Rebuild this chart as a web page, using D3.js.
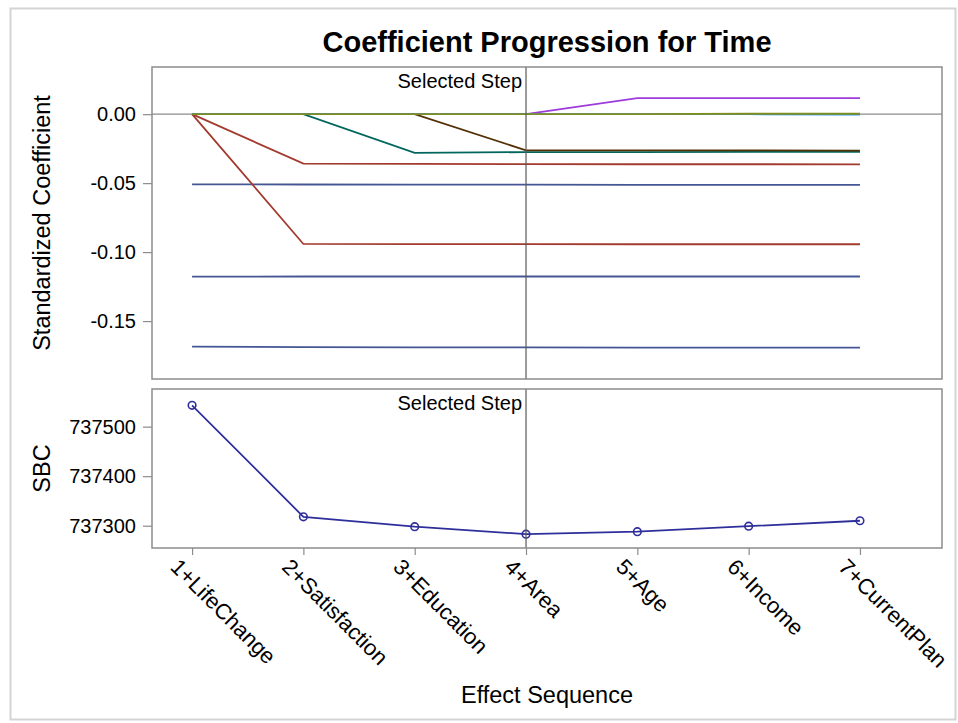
<!DOCTYPE html>
<html>
<head>
<meta charset="utf-8">
<title>Coefficient Progression for Time - D3.js</title>
<script src="https://d3js.org/d3.v7.min.js"></script>
<style>
body {
margin: 0;
background: #fff;
}

text {
font-family: "Liberation Sans", Arial, sans-serif;
fill: #000;
}

.frame {
fill: none;
stroke: #8c8c8c;
stroke-width: 1.5px;
}

.line {
fill: none;
stroke-width: 1.8px;
}

.axis path {
display: none;
}

.axis line {
stroke: #8c8c8c;
stroke-width: 1.2px;
}

.axis text {
font-size: 20px;
}
</style>
</head>
<body>
<svg width="958" height="723"></svg>

<script>
// effect sequence (x categories)
const steps = ["1+LifeChange", "2+Satisfaction", "3+Education", "4+Area", "5+Age", "6+Income", "7+CurrentPlan"];
const selectedStep = 4;

// standardized coefficients per step
const lifeChangeA = [-0.0509, -0.0510, -0.0511, -0.0511, -0.0512, -0.0512, -0.0512];
const lifeChangeB = [-0.1178, -0.1177, -0.1177, -0.1177, -0.1177, -0.1177, -0.1177];
const lifeChangeC = [-0.1686, -0.1689, -0.1690, -0.1691, -0.1692, -0.1692, -0.1693];
const satisfactionA = [0, -0.0359, -0.0361, -0.0362, -0.0363, -0.0363, -0.0364];
const satisfactionB = [0, -0.0941, -0.0942, -0.0942, -0.0943, -0.0943, -0.0943];
const education = [0, 0, -0.0281, -0.0275, -0.0275, -0.0274, -0.0274];
const area = [0, 0, 0, -0.0262, -0.0262, -0.0263, -0.0264];
const age = [0, 0, 0, 0, 0.0117, 0.0116, 0.0116];
const currentPlan = [0, 0, 0, 0, 0, 0, -0.0004];
const income = [0, 0, 0, 0, 0, 0.0003, 0.0003];

// SBC per step
const sbc = [737543, 737318, 737298, 737283, 737288, 737299, 737310];

// tick values
const coefTicks = [0, -0.05, -0.10, -0.15];
const sbcTicks = [737300, 737400, 737500];

const coefSeries = [
{ values: lifeChangeA, color: "#445694" },
{ values: lifeChangeB, color: "#445694" },
{ values: lifeChangeC, color: "#445694" },
{ values: satisfactionA, color: "#A23A2E" },
{ values: satisfactionB, color: "#A23A2E" },
{ values: education, color: "#01665E" },
{ values: area, color: "#543005" },
{ values: age, color: "#9D3CDB" },
{ values: currentPlan, color: "#2597FA" },
{ values: income, color: "#7F8E1F" },
];

const svg = d3.select("svg");
const left = 152, right = 942;
const top1 = 67, bottom1 = 379;
const top2 = 389, bottom2 = 548;

// outer border
svg.append("rect")
.attr("x", 10.5).attr("y", 8.5)
.attr("width", 945).attr("height", 711)
.attr("fill", "#fff")
.attr("stroke", "#d4d4d4")
.attr("stroke-width", 2);

const x = d3.scaleLinear()
.domain([0.64, 7.737])
.range([left, right]);

const y1 = d3.scaleLinear()
.domain([0.0342, -0.192])
.range([top1, bottom1]);

const y2 = d3.scaleLinear()
.domain([737576, 737255])
.range([top2, bottom2]);

const locale = d3.formatLocale({ decimal: ".", thousands: ",", grouping: [3], currency: ["$", ""], minus: "-" });
const fmt = locale.format(".2f");

// title
svg.append("text")
.attr("x", (left + right) / 2)
.attr("y", 52)
.attr("text-anchor", "middle")
.style("font-size", "29px")
.style("font-weight", "bold")
.text("Coefficient Progression for Time");

// ---- top panel ----
// zero reference line
svg.append("line")
.attr("x1", left).attr("x2", right)
.attr("y1", y1(0)).attr("y2", y1(0))
.attr("stroke", "#8c8c8c")
.attr("stroke-width", 1.2);

const coefLine = d3.line()
.x((d, i) => x(i + 1))
.y(d => y1(d));

svg.selectAll(".coef")
.data(coefSeries)
.enter()
.append("path")
.attr("class", "line coef")
.attr("stroke", d => d.color)
.attr("d", d => coefLine(d.values));

svg.append("g")
.attr("class", "axis")
.attr("transform", `translate(${left},0)`)
.call(d3.axisLeft(y1).tickValues(coefTicks).tickFormat(fmt).tickSize(9).tickPadding(7));

// ---- bottom panel ----
const sbcLine = d3.line()
.x((d, i) => x(i + 1))
.y(d => y2(d));

svg.append("path")
.datum(sbc)
.attr("class", "line")
.attr("stroke", "#2f2f9c")
.attr("d", sbcLine);

svg.selectAll(".dot")
.data(sbc)
.enter()
.append("circle")
.attr("class", "dot")
.attr("cx", (d, i) => x(i + 1))
.attr("cy", d => y2(d))
.attr("r", 3.8)
.attr("fill", "none")
.attr("stroke", "#2f2f9c")
.attr("stroke-width", 1.6);

svg.append("g")
.attr("class", "axis")
.attr("transform", `translate(${left},0)`)
.call(d3.axisLeft(y2).tickValues(sbcTicks).tickFormat(d3.format("d")).tickSize(9).tickPadding(7));

// x axis (bottom panel)
const xAxis = svg.append("g")
.attr("class", "axis")
.attr("transform", `translate(0,${bottom2})`)
.call(d3.axisBottom(x).tickValues(d3.range(1, steps.length + 1)).tickFormat(d => steps[d - 1]).tickSize(7));

xAxis.selectAll("text")
.style("font-size", "22px")
.attr("text-anchor", "start")
.attr("x", 0)
.attr("y", 0)
.attr("dy", "0.72em")
.attr("transform", "translate(-12,9) rotate(45)");

// selected step line and labels
[[top1, bottom1], [top2, bottom2]].forEach(([t, b]) => {
svg.append("line")
.attr("x1", x(selectedStep)).attr("x2", x(selectedStep))
.attr("y1", t).attr("y2", b)
.attr("stroke", "#5a5a5a")
.attr("stroke-width", 1.2);
svg.append("text")
.attr("x", x(selectedStep) - 4)
.attr("y", t + 21)
.attr("text-anchor", "end")
.style("font-size", "20px")
.text("Selected Step");
});

// frames
svg.append("rect").attr("class", "frame")
.attr("x", left).attr("y", top1)
.attr("width", right - left).attr("height", bottom1 - top1);
svg.append("rect").attr("class", "frame")
.attr("x", left).attr("y", top2)
.attr("width", right - left).attr("height", bottom2 - top2);

// axis titles
svg.append("text")
.attr("transform", `translate(50,${(top1 + bottom1) / 2}) rotate(-90)`)
.attr("text-anchor", "middle")
.style("font-size", "23.5px")
.text("Standardized Coefficient");

svg.append("text")
.attr("transform", `translate(50,${(top2 + bottom2) / 2}) rotate(-90)`)
.attr("text-anchor", "middle")
.style("font-size", "23.5px")
.text("SBC");

svg.append("text")
.attr("x", (left + right) / 2)
.attr("y", 703)
.attr("text-anchor", "middle")
.style("font-size", "23.5px")
.text("Effect Sequence");
</script>
</body>
</html>
